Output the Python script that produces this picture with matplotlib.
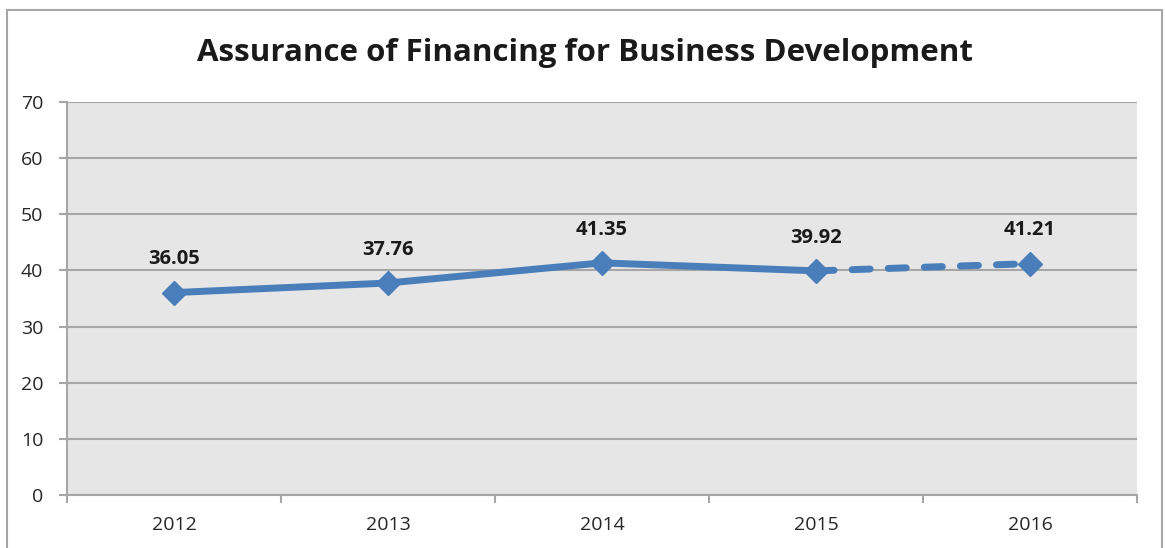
import numpy as np
import matplotlib.pyplot as plt
from matplotlib.patches import Rectangle

years = ['2012', '2013', '2014', '2015', '2016']
values = [36.05, 37.76, 41.35, 39.92, 41.21]
n_actual = 4  # first four years solid, last segment is a forecast (dashed)

blue = '#4a7ebb'
grid_col = '#a6a6a6'

plt.rcParams['font.family'] = ['Open Sans', 'DejaVu Sans']

fig = plt.figure(figsize=(11.65, 5.48), dpi=100)
ax = fig.add_axes([67/1165, 1-495/548, 1070/1165, 393/548])
ax.set_facecolor('#e6e6e6')

x = np.arange(len(years))
ax.plot(x[:n_actual], values[:n_actual], color=blue, lw=5, solid_capstyle='round',
        solid_joinstyle='round', zorder=3)
ax.plot(x[n_actual-1:], values[n_actual-1:], color=blue, lw=5, dashes=(2.6, 2.6),
        dash_capstyle='round', zorder=3)
ax.plot(x, values, ls='none', marker='D', ms=12, color=blue, zorder=4)

for xi, v in zip(x, values):
    ax.annotate('%.2f' % v, (xi, v), xytext=(0, 24), textcoords='offset points',
                ha='center', va='center', fontsize=14.5, fontweight='bold', color='#1a1a1a')

ax.set_xlim(-0.5, len(years)-0.5)
ax.set_ylim(0, 70)
ax.set_yticks(np.arange(0, 71, 10))
ax.set_xticks(x)
ax.set_xticklabels(years)
ax.set_xticks(np.arange(-0.5, len(years), 1), minor=True)
ax.tick_params(axis='x', which='major', length=0, pad=15, labelsize=14, labelcolor='#262626')
ax.tick_params(axis='x', which='minor', length=6, color=grid_col, width=1.5)
ax.tick_params(axis='y', length=6, color=grid_col, width=1.5, pad=11, labelsize=14,
               labelcolor='#262626')
ax.grid(axis='y', color=grid_col, lw=1.5)
ax.set_axisbelow(True)
for s in ['top', 'right']:
    ax.spines[s].set_visible(False)
for s in ['left', 'bottom']:
    ax.spines[s].set_color(grid_col)
    ax.spines[s].set_linewidth(1.5)

fig.text(585/1165, 1-53/548, 'Assurance of Financing for Business Development',
         ha='center', va='center', fontsize=22.5, fontweight='bold', color='#1a1a1a')

fig.patches.append(Rectangle((7/1165, -0.1), 1155/1165, 1.1 - 10/548, fill=False,
                             edgecolor='#a6a6a6', lw=1.5, transform=fig.transFigure,
                             figure=fig))

fig.savefig('out.png', dpi=100)
